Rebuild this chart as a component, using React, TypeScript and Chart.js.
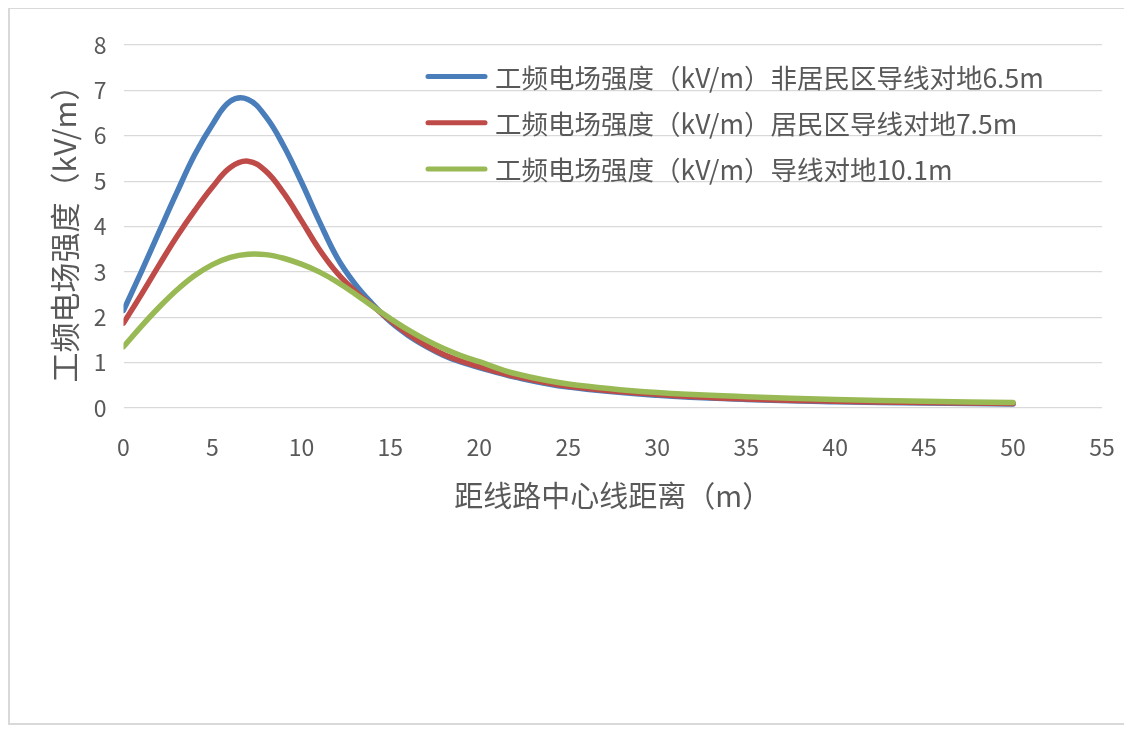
import React, { useEffect, useRef } from "react";
import { Chart, registerables } from "chart.js";

Chart.register(...registerables);

// Distance from line centre (m)
const DISTANCES = [0, 1, 2, 3, 4, 5, 6, 7, 8, 9, 10, 11, 12, 13, 14, 15, 16, 17, 18, 19, 20, 22, 25, 30, 35, 40, 45, 50];

// 工频电场强度 (kV/m), conductor height 6.5 m (non-residential)
const FIELD_65 = [2.15, 3.0, 3.88, 4.75, 5.58, 6.25, 6.76, 6.8, 6.42, 5.78, 4.98, 4.12, 3.32, 2.74, 2.29, 1.9, 1.6, 1.36, 1.16, 1.01, 0.89, 0.68, 0.46, 0.28, 0.19, 0.14, 0.11, 0.09];
// conductor height 7.5 m (residential)
const FIELD_75 = [1.87, 2.5, 3.15, 3.78, 4.35, 4.87, 5.3, 5.44, 5.22, 4.74, 4.13, 3.5, 2.98, 2.58, 2.25, 1.93, 1.63, 1.38, 1.18, 1.03, 0.91, 0.7, 0.48, 0.3, 0.2, 0.15, 0.12, 0.1];
// conductor height 10.1 m
const FIELD_101 = [1.35, 1.8, 2.22, 2.6, 2.92, 3.16, 3.32, 3.39, 3.38, 3.3, 3.17, 3.0, 2.78, 2.52, 2.24, 1.97, 1.72, 1.5, 1.31, 1.15, 1.02, 0.76, 0.53, 0.34, 0.25, 0.19, 0.15, 0.12];

const SERIES_LABELS = [
  "工频电场强度（kV/m）非居民区导线对地6.5m",
  "工频电场强度（kV/m）居民区导线对地7.5m",
  "工频电场强度（kV/m）导线对地10.1m",
];
const SERIES_COLORS = ["#4A7EBB", "#BE4B48", "#98B954"];

const X_TITLE = "距线路中心线距离（m）";
const Y_TITLE = "工频电场强度（kV/m）";

const FONT = "'Noto Sans CJK SC', 'Noto Sans', sans-serif";
const TEXT = "#595959";

const insideLegend = {
  id: "insideLegend",
  afterDraw(chart: any) {
    const { ctx, chartArea } = chart;
    const x0 = chartArea.left + 301.5;
    const y0 = chartArea.top + 31.5;
    const rowGap = 46.3;
    ctx.save();
    chart.data.datasets.forEach((ds: any, i: number) => {
      const y = y0 + i * rowGap;
      ctx.strokeStyle = ds.borderColor;
      ctx.lineWidth = 5;
      ctx.lineCap = "round";
      ctx.beginPath();
      ctx.moveTo(x0 + 3, y);
      ctx.lineTo(x0 + 60, y);
      ctx.stroke();
      ctx.fillStyle = TEXT;
      ctx.font = `26.5px ${FONT}`;
      ctx.textBaseline = "middle";
      ctx.textAlign = "left";
      ctx.fillText(ds.label, x0 + 70, y + 1);
    });
    ctx.restore();
  },
};

export default function App() {
  const ref = useRef<HTMLCanvasElement>(null);

  useEffect(() => {
    if (!ref.current) return;
    const seriesValues = [FIELD_65, FIELD_75, FIELD_101];
    const chart = new Chart(ref.current, {
      type: "line",
      data: {
        datasets: seriesValues.map((vals, k) => ({
          label: SERIES_LABELS[k],
          data: DISTANCES.map((d, i) => ({ x: d, y: vals[i] })),
          borderColor: SERIES_COLORS[k],
          backgroundColor: SERIES_COLORS[k],
          borderWidth: 5.5,
          pointRadius: 0,
          tension: 0.4,
          borderCapStyle: "round" as const,
          borderJoinStyle: "round" as const,
          fill: false,
          order: 2 - k,
        })),
      },
      options: {
        animation: false,
        responsive: false,
        maintainAspectRatio: false,
        layout: { padding: { top: 36, right: 24, bottom: 210, left: 0 } },
        plugins: {
          legend: { display: false },
          tooltip: { enabled: false },
        },
        scales: {
          x: {
            type: "linear",
            min: 0,
            max: 55,
            ticks: {
              stepSize: 5,
              padding: 0,
              color: TEXT,
              font: { family: FONT, size: 23 },
              maxRotation: 0,
            },
            grid: {
              display: true,
              drawOnChartArea: false,
              drawTicks: true,
              tickLength: 25,
              tickColor: "rgba(0,0,0,0)",
              color: "rgba(0,0,0,0)",
            },
            border: { display: false },
            title: {
              display: true,
              text: X_TITLE,
              color: TEXT,
              font: { family: FONT, size: 29 },
              padding: { top: 0, bottom: 0 },
            },
            afterFit: (scale: any) => {
              scale.height = 105;
            },
          },
          y: {
            type: "linear",
            min: 0,
            max: 8,
            ticks: {
              stepSize: 1,
              padding: 17,
              color: TEXT,
              font: { family: FONT, size: 23 },
            },
            grid: { color: "#d9d9d9", lineWidth: 1.2, drawTicks: false },
            border: { display: false },
            title: {
              display: true,
              text: Y_TITLE,
              color: TEXT,
              font: { family: FONT, size: 30 },
              padding: { top: 37, bottom: 0 },
            },
            afterFit: (scale: any) => {
              scale.width = 113.5;
            },
          },
        },
      },
      plugins: [insideLegend],
    });
    return () => chart.destroy();
  }, []);

  return (
    <div
      style={{
        width: 1116,
        height: 714,
        border: "2px solid #d9d9d9",
        marginTop: -1,
        background: "#fff",
      }}
    >
      <canvas ref={ref} width={1116} height={714} style={{ display: "block", width: 1116, height: 714 }} />
    </div>
  );
}
